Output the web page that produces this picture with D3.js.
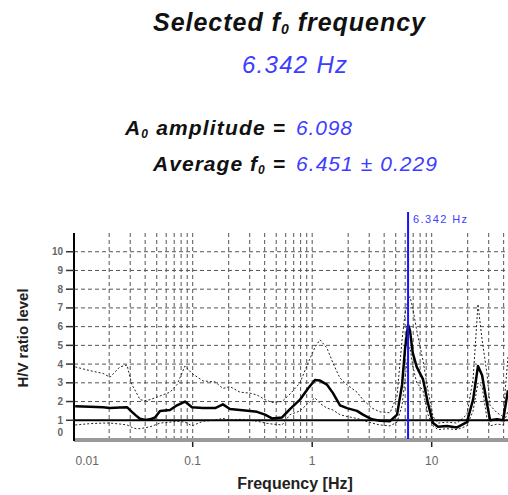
<!DOCTYPE html>
<html>
<head>
<meta charset="utf-8">
<script src="https://cdn.jsdelivr.net/npm/d3@7"></script>
<style>
  html, body { margin: 0; padding: 0; background: #fff; }
  svg { display: block; }
  text { font-family: "Liberation Sans", Arial, sans-serif; }
</style>
</head>
<body>
<svg id="chart" width="508" height="495"></svg>
<script>
// H/V spectral ratio: mean curve and mean ± one standard deviation
const freqHz = [0.0104, 0.0138, 0.0178, 0.0203, 0.0246, 0.0282, 0.0310, 0.0336, 0.0362, 0.0399,
  0.0439, 0.0484, 0.0533, 0.0646, 0.0739, 0.0862, 0.0986, 0.122, 0.154, 0.179,
  0.205, 0.249, 0.302, 0.345, 0.403, 0.461, 0.559, 0.652, 0.790, 0.922,
  1.055, 1.162, 1.330, 1.493, 1.709, 1.955, 2.37, 2.66, 3.16, 3.69,
  4.48, 5.13, 5.65, 5.98, 6.342, 6.58, 6.94, 7.49, 8.45, 9.31,
  10.26, 11.3, 13.4, 16.3, 19.7, 22.2, 24.4, 26.4, 29.0, 30.8,
  35.2, 39.6, 43.5];
const hvMean = [1.75, 1.72, 1.70, 1.66, 1.68, 1.70, 1.45, 1.25, 1.08, 1.02,
  1.05, 1.15, 1.50, 1.55, 1.80, 2.00, 1.70, 1.65, 1.65, 1.85,
  1.60, 1.55, 1.50, 1.45, 1.30, 1.10, 1.15, 1.60, 2.10, 2.70,
  3.15, 3.12, 2.90, 2.45, 1.80, 1.65, 1.50, 1.30, 1.05, 0.97,
  0.95, 1.30, 2.90, 4.80, 6.098, 5.80, 4.60, 3.85, 3.20, 1.90,
  0.85, 0.65, 0.70, 0.62, 0.90, 2.10, 3.90, 3.40, 1.90, 1.00,
  1.05, 1.00, 2.60];
const hvUpper = [3.85, 3.65, 3.50, 3.30, 3.85, 3.95, 2.90, 2.50, 2.10, 2.05,
  2.10, 2.20, 2.30, 2.50, 2.90, 3.90, 3.50, 3.10, 3.05, 2.70,
  2.80, 2.50, 2.45, 2.35, 2.10, 1.95, 2.00, 2.40, 3.00, 4.05,
  4.90, 5.30, 4.85, 4.05, 3.25, 2.90, 2.50, 2.10, 1.65, 1.45,
  1.40, 2.30, 5.30, 6.70, 7.45, 7.60, 7.00, 5.80, 4.20, 2.60,
  1.20, 0.85, 0.90, 0.85, 1.30, 3.20, 7.20, 5.30, 3.50, 1.80,
  1.40, 1.20, 4.40];
const hvLower = [0.75, 0.82, 0.85, 0.85, 0.80, 0.75, 0.62, 0.55, 0.55, 0.60,
  0.65, 0.75, 0.85, 0.90, 0.95, 0.90, 0.70, 0.95, 1.00, 1.10,
  1.00, 1.05, 1.00, 0.95, 0.85, 0.80, 0.75, 1.30, 1.50, 1.90,
  2.20, 1.90, 1.65, 1.55, 1.30, 1.20, 1.10, 1.00, 0.85, 0.75,
  0.70, 0.90, 1.80, 3.20, 4.60, 4.90, 3.90, 3.00, 2.60, 1.30,
  0.70, 0.50, 0.55, 0.50, 0.70, 1.50, 3.00, 2.80, 1.10, 0.70,
  0.80, 0.75, 1.50];

const yTicks = [0, 1, 2, 3, 4, 5, 6, 7, 8, 9, 10];
const xTickValues = [0.01, 0.1, 1, 10];
const xTickLabels = ["0.01", "0.1", "1", "10"];

const selectedF0 = 6.342;
const amplitudeA0 = 6.098;
const averageF0 = 6.451;
const averageF0Sd = 0.229;

const svg = d3.select("#chart");
const blue = "#3d3dff";

// plot frame
const plotLeft = 74, plotTop = 233, plotBottom = 439, plotRight = 508;
const x = d3.scaleLog().domain([0.01, 50]).range([73.2, 73.2 + 119.5 * Math.log10(5000)]);
const y = d3.scaleLinear().domain([0, 11]).range([plotBottom, plotTop]);

// header texts, each stretched to its drawn width via letter spacing
function fitSpacing(sel, target) {
  const n = sel.text().length;
  const w = sel.node().getComputedTextLength();
  if (n > 1) sel.attr("letter-spacing", (target - w) / (n - 1));
}

const title = svg.append("text")
  .attr("x", 153).attr("y", 31)
  .attr("font-size", 25).attr("font-weight", "bold").attr("font-style", "italic")
  .attr("fill", "#111");
title.append("tspan").text("Selected f");
title.append("tspan").attr("font-size", 14).attr("dy", 3).text("0");
title.append("tspan").attr("dy", -3).text(" frequency");
fitSpacing(title, 272);

const f0Text = svg.append("text")
  .attr("x", 242).attr("y", 73)
  .attr("font-size", 24).attr("font-style", "italic").attr("fill", blue)
  .text(selectedF0.toFixed(3) + " Hz");
fitSpacing(f0Text, 105);

const ampLabel = svg.append("text")
  .attr("x", 125).attr("y", 135)
  .attr("font-size", 21).attr("font-weight", "bold").attr("font-style", "italic")
  .attr("fill", "#111");
ampLabel.append("tspan").text("A");
ampLabel.append("tspan").attr("font-size", 12).attr("dy", 3).text("0");
ampLabel.append("tspan").attr("dy", -3).text(" amplitude =");
fitSpacing(ampLabel, 160);

const ampValue = svg.append("text")
  .attr("x", 296).attr("y", 135)
  .attr("font-size", 21).attr("font-style", "italic").attr("fill", blue)
  .text(amplitudeA0.toFixed(3));
fitSpacing(ampValue, 56);

const avgLabel = svg.append("text")
  .attr("x", 153).attr("y", 171)
  .attr("font-size", 21).attr("font-weight", "bold").attr("font-style", "italic")
  .attr("fill", "#111");
avgLabel.append("tspan").text("Average f");
avgLabel.append("tspan").attr("font-size", 12).attr("dy", 3).text("0");
avgLabel.append("tspan").attr("dy", -3).text(" =");
fitSpacing(avgLabel, 132);

const avgValue = svg.append("text")
  .attr("x", 296).attr("y", 171)
  .attr("font-size", 21).attr("font-style", "italic").attr("fill", blue)
  .text(averageF0.toFixed(3) + " \u00b1 " + averageF0Sd.toFixed(3));
fitSpacing(avgValue, 141);

// clip region for the plot interior
svg.append("defs").append("clipPath").attr("id", "plotClip")
  .append("rect").attr("x", plotLeft).attr("y", plotTop - 1)
  .attr("width", plotRight - plotLeft).attr("height", plotBottom - plotTop + 1);

const grid = svg.append("g").attr("clip-path", "url(#plotClip)");

// horizontal dashed grid
grid.selectAll(".hgrid").data(yTicks.filter(v => v >= 2)).join("line")
  .attr("x1", plotLeft).attr("x2", plotRight)
  .attr("y1", d => y(d)).attr("y2", d => y(d))
  .attr("stroke", "#555").attr("stroke-width", 1).attr("stroke-dasharray", "4,3");

// vertical dashed grid on every log minor step
const minorFreqs = x.ticks().filter(f => f > 0.0101);
grid.selectAll(".vgrid").data(minorFreqs).join("line")
  .attr("x1", d => x(d)).attr("x2", d => x(d))
  .attr("y1", plotTop).attr("y2", plotBottom)
  .attr("stroke", "#555").attr("stroke-width", 1).attr("stroke-dasharray", "4,3");

// major ticks below the axis
svg.selectAll(".xtick").data(xTickValues.slice(1)).join("line")
  .attr("x1", d => x(d)).attr("x2", d => x(d))
  .attr("y1", plotBottom).attr("y2", plotBottom + 8)
  .attr("stroke", "#222").attr("stroke-width", 1.5);

// curves
const line = (vals) => d3.line()
  .x((d, i) => x(freqHz[i]))
  .y(d => y(d))(vals);

const curves = svg.append("g").attr("clip-path", "url(#plotClip)");
curves.append("path").attr("d", line(hvUpper))
  .attr("fill", "none").attr("stroke", "#222").attr("stroke-width", 1)
  .attr("stroke-dasharray", "2,2");
curves.append("path").attr("d", line(hvLower))
  .attr("fill", "none").attr("stroke", "#222").attr("stroke-width", 1)
  .attr("stroke-dasharray", "2,2");

// reference level H/V = 1
curves.append("line")
  .attr("x1", plotLeft).attr("x2", plotRight)
  .attr("y1", y(1)).attr("y2", y(1))
  .attr("stroke", "#000").attr("stroke-width", 2);

curves.append("path").attr("d", line(hvMean))
  .attr("fill", "none").attr("stroke", "#000").attr("stroke-width", 2.5)
  .attr("stroke-linejoin", "round");

// axes
svg.append("line")
  .attr("x1", plotLeft).attr("x2", plotRight).attr("y1", plotBottom + 1).attr("y2", plotBottom + 1)
  .attr("stroke", "#999").attr("stroke-width", 4);
svg.append("line")
  .attr("x1", plotLeft).attr("x2", plotLeft).attr("y1", plotTop).attr("y2", plotBottom + 2)
  .attr("stroke", "#000").attr("stroke-width", 2);

// y ticks and labels
svg.selectAll(".ytick").data(yTicks.filter(v => v > 0)).join("line")
  .attr("x1", 66).attr("x2", plotLeft)
  .attr("y1", d => y(d)).attr("y2", d => y(d))
  .attr("stroke", "#333").attr("stroke-width", 1.5);
svg.selectAll(".ylab").data(yTicks).join("text")
  .attr("x", 63)
  .attr("y", d => Math.min(y(d), plotBottom - 7))
  .attr("dy", "0.35em")
  .attr("text-anchor", "end")
  .attr("font-size", 10).attr("font-weight", "bold").attr("fill", "#666")
  .text(d => d);

// x tick labels
svg.selectAll(".xlab").data(xTickValues).join("text")
  .attr("x", (d, i) => i === 0 ? x(d) + 14 : x(d))
  .attr("y", 461).attr("dy", "0.35em")
  .attr("text-anchor", "middle")
  .attr("font-size", 12).attr("fill", "#666")
  .text((d, i) => xTickLabels[i]);

// axis titles
svg.append("text")
  .attr("x", 295).attr("y", 489)
  .attr("text-anchor", "middle")
  .attr("font-size", 16).attr("font-weight", "bold").attr("fill", "#222")
  .text("Frequency [Hz]");
svg.append("text")
  .attr("transform", "translate(28,338) rotate(-90)")
  .attr("text-anchor", "middle")
  .attr("font-size", 15).attr("font-weight", "bold").attr("fill", "#222")
  .text("H/V ratio level");

// selected f0 marker
svg.append("line")
  .attr("x1", x(selectedF0)).attr("x2", x(selectedF0))
  .attr("y1", 212).attr("y2", plotBottom)
  .attr("stroke", "#1414ff").attr("stroke-width", 2);
const markerLabel = svg.append("text")
  .attr("x", x(selectedF0) + 5).attr("y", 219).attr("dy", "0.35em")
  .attr("font-size", 11).attr("fill", blue)
  .text(selectedF0.toFixed(3) + " Hz");
fitSpacing(markerLabel, 54);
</script>
</body>
</html>
